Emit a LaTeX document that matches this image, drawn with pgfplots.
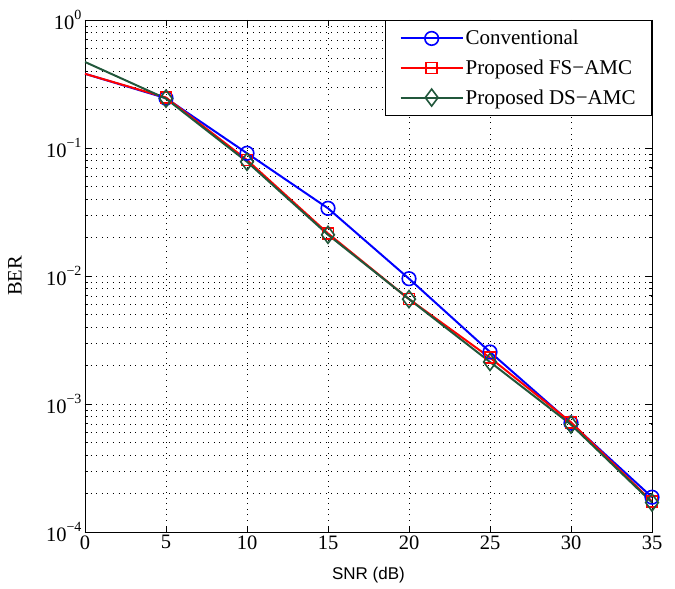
\documentclass[border=0pt]{standalone}
\usepackage{fontspec}
\setmainfont{Liberation Serif}
\newfontfamily\arialfont{Liberation Sans}
\usepackage{pgfplots}
\pgfplotsset{compat=1.18}
\usetikzlibrary{calc}
\definecolor{dsgreen}{rgb}{0.13,0.34,0.23}
\newcommand{\tp}[1]{10\raisebox{1.05ex}{\fontsize{14}{14}\selectfont #1}}
\begin{document}
\begin{tikzpicture}
\begin{axis}[name=ax, scale only axis, width=567pt, height=512pt,
  xmin=0, xmax=35, ymin=1e-4, ymax=1, ymode=log,
  xtick={0,5,...,35}, ytick={1e-4,1e-3,1e-2,1e-1,1},
  yticklabels={\tp{−4},\tp{−3},\tp{−2},\tp{−1},\tp{0}},
  minor x tick num=0,
  grid=both,
  major grid style={black, line width=0.6pt, dash pattern=on 0.8pt off 4.8pt},
  minor grid style={black, line width=0.6pt, dash pattern=on 0.8pt off 4.8pt},
  tick align=inside, major tick length=6pt, minor tick length=3.5pt,
  tick style={black, line width=0.7pt},
  axis line style={black, line width=0.8pt},
  ticklabel style={font=\fontsize{20.5}{24}\selectfont},
  /pgf/number format/assume math mode=true,
  xlabel={\arialfont\fontsize{17}{20}\selectfont SNR (dB)},
  ylabel={BER},
  ylabel style={font=\fontsize{20.5}{24}\selectfont, at={(axis description cs:-0.1235,0.5)}, anchor=center},
  xlabel style={at={(axis description cs:0.5,-0.084)}, anchor=center},
  legend style={at={(1,1)}, anchor=north east, font=\fontsize{21}{24}\selectfont,
    draw=black, line width=0.8pt, row sep=9.5pt, inner xsep=14pt, inner ysep=8pt,
    cells={anchor=west}},
  legend image code/.code={\draw[line width=2pt, mark indices={2}] plot coordinates {(0pt,0pt) (31pt,0pt) (62pt,0pt)};},
  every axis plot/.append style={line width=2pt, mark size=6.8pt, mark indices={2,3,4,5,6,7,8}, mark options={solid, line width=1.6pt, fill=none}},
]
\addplot[blue, mark=o] coordinates {(0,0.38) (5,0.245) (10,0.091) (15,0.0338) (20,0.00953) (25,0.00255) (30,7.1e-4) (35,1.87e-4)};
\addlegendentry{Conventional}
\addplot[red, mark=square, mark size=5.5pt] coordinates {(0,0.38) (5,0.248) (10,0.0806) (15,0.0215) (20,0.0066) (25,0.0023) (30,7.2e-4) (35,1.73e-4)};
\addlegendentry{Proposed FS−AMC}
\addplot[dsgreen, mark=diamond, mark size=8.5pt] coordinates {(0,0.47) (5,0.243) (10,0.078) (15,0.021) (20,0.0066) (25,0.00213) (30,6.9e-4) (35,1.7e-4)};
\addlegendentry{Proposed DS−AMC}
\end{axis}
\pgfresetboundingbox
\path[use as bounding box] ($(ax.south west)+(-85pt,-57pt)$) rectangle ($(ax.north east)+(23pt,20pt)$);
\end{tikzpicture}
\end{document}
